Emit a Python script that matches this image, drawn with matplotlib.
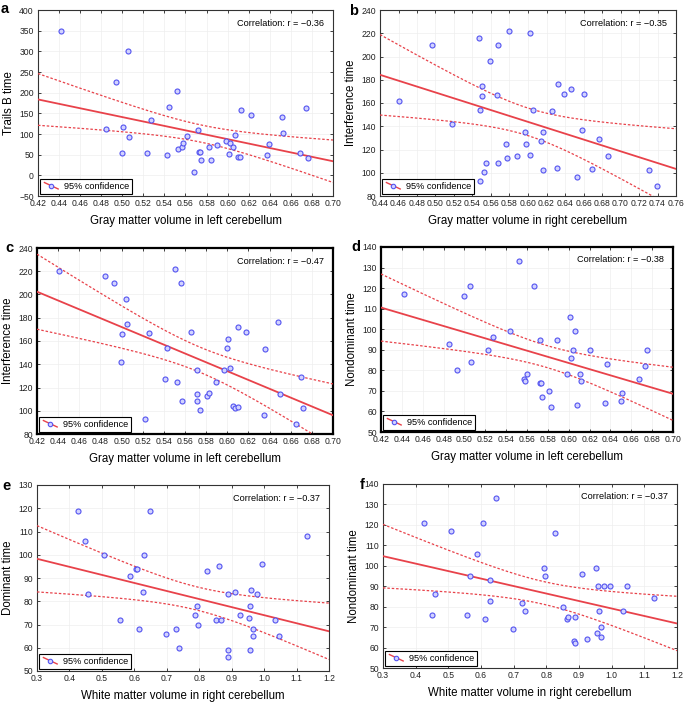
import numpy as np
import matplotlib.pyplot as plt
from matplotlib.lines import Line2D
from matplotlib.legend_handler import HandlerBase

plt.rcParams['font.family'] = ['Liberation Sans', 'DejaVu Sans']

# panel a: gray matter (left) vs Trails B time
a_x = [0.442, 0.505, 0.494, 0.485, 0.501, 0.506, 0.500, 0.527, 0.523, 0.544,
       0.552, 0.542, 0.553, 0.557, 0.558, 0.561, 0.568, 0.572, 0.573, 0.574,
       0.575, 0.582, 0.584, 0.590, 0.598, 0.602, 0.601, 0.605, 0.607, 0.610,
       0.612, 0.613, 0.622, 0.637, 0.639, 0.652, 0.653, 0.669, 0.674, 0.676]
a_y = [350, 300, 227, 112, 116, 93, 55, 135, 55, 165,
       203, 50, 63, 69, 78, 96, 8, 110, 57, 57,
       37, 68, 36, 74, 82, 79, 52, 69, 97, 45,
       45, 157, 146, 48, 75, 142, 103, 55, 162, 43]

# panel b: gray matter (right) vs interference time
b_x = [0.460, 0.496, 0.518, 0.547, 0.548, 0.550, 0.550, 0.548, 0.552, 0.555,
       0.559, 0.566, 0.568, 0.568, 0.579, 0.576, 0.577, 0.588, 0.597, 0.598,
       0.602, 0.602, 0.605, 0.614, 0.616, 0.616, 0.626, 0.631, 0.632, 0.639,
       0.647, 0.653, 0.658, 0.661, 0.669, 0.677, 0.687, 0.731, 0.739]
b_y = [162, 210, 142, 216, 154, 175, 166, 93, 101, 108,
       196, 167, 210, 108, 222, 125, 113, 114, 135, 125,
       220, 115, 154, 127, 135, 102, 153, 104, 176, 168,
       172, 96, 137, 168, 103, 129, 114, 102, 89]

# panel c: gray matter (left) vs interference time
c_x = [0.441, 0.484, 0.493, 0.504, 0.505, 0.500, 0.499, 0.526, 0.522, 0.543,
       0.541, 0.551, 0.556, 0.552, 0.557, 0.566, 0.571, 0.571, 0.571, 0.574,
       0.581, 0.583, 0.589, 0.597, 0.600, 0.601, 0.603, 0.605, 0.607, 0.610,
       0.610, 0.618, 0.635, 0.636, 0.648, 0.650, 0.665, 0.670, 0.672]
c_y = [220, 216, 210, 196, 175, 166, 142, 167, 93, 154,
       127, 222, 210, 125, 108, 168, 135, 114, 108, 101,
       113, 115, 125, 135, 154, 162, 137, 104, 102, 103,
       172, 168, 96, 153, 176, 114, 89, 129, 102]

# panel d: gray matter (left) vs nondominant time
d_x = [0.442, 0.485, 0.493, 0.500, 0.505, 0.506, 0.523, 0.527, 0.544, 0.552,
       0.557, 0.558, 0.560, 0.567, 0.572, 0.572, 0.573, 0.574, 0.581, 0.583,
       0.589, 0.598, 0.601, 0.602, 0.604, 0.606, 0.608, 0.611, 0.612, 0.620,
       0.635, 0.637, 0.650, 0.651, 0.667, 0.673, 0.675]
d_y = [117, 93, 80, 116, 121, 84, 90, 96, 99, 133,
       76, 75, 78, 121, 95, 74, 74, 67, 70, 62,
       95, 78, 106, 86, 90, 99, 63, 78, 75, 90,
       64, 83, 65, 69, 76, 82, 90]

# panel e: white matter (right) vs dominant time
e_x = [0.426, 0.449, 0.458, 0.508, 0.556, 0.588, 0.606, 0.608, 0.613, 0.628,
       0.631, 0.647, 0.697, 0.728, 0.737, 0.788, 0.792, 0.795, 0.825, 0.852,
       0.862, 0.867, 0.888, 0.888, 0.889, 0.910, 0.925, 0.952, 0.955, 0.958,
       0.960, 0.966, 0.966, 0.977, 0.995, 1.035, 1.046, 1.133]
e_y = [119, 106, 83, 100, 72, 91, 94, 94, 68, 84,
       100, 119, 66, 68, 60, 74, 78, 70, 93, 72,
       95, 72, 56, 59, 83, 84, 74, 73, 59, 78,
       85, 68, 65, 83, 96, 72, 65, 108]

# panel f: white matter (right) vs nondominant time
f_x = [0.426, 0.449, 0.458, 0.508, 0.556, 0.566, 0.588, 0.606, 0.611, 0.627,
       0.629, 0.647, 0.697, 0.726, 0.736, 0.792, 0.795, 0.825, 0.852, 0.862,
       0.867, 0.888, 0.886, 0.888, 0.910, 0.925, 0.952, 0.955, 0.958, 0.960,
       0.966, 0.966, 0.977, 0.995, 1.035, 1.046, 1.131]
f_y = [121, 76, 86, 117, 76, 95, 106, 121, 74, 83,
       93, 133, 69, 82, 78, 99, 95, 116, 80, 74,
       75, 75, 63, 62, 96, 64, 99, 67, 90, 78,
       70, 65, 90, 90, 78, 90, 84]

panels = [
    ('a', a_x, a_y, '-0.36', 'Gray matter volume in left cerebellum', 'Trails B time',
     (0.42, 0.70), np.arange(0.42, 0.7001, 0.02), (-50, 400), np.arange(-50, 401, 50)),
    ('b', b_x, b_y, '-0.35', 'Gray matter volume in right cerebellum', 'Interference time',
     (0.44, 0.76), np.arange(0.44, 0.7601, 0.02), (80, 240), np.arange(80, 241, 20)),
    ('c', c_x, c_y, '-0.47', 'Gray matter volume in left cerebellum', 'Interference time',
     (0.42, 0.70), np.arange(0.42, 0.7001, 0.02), (80, 240), np.arange(80, 241, 20)),
    ('d', d_x, d_y, '-0.38', 'Gray matter volume in left cerebellum', 'Nondominant time',
     (0.42, 0.70), np.arange(0.42, 0.7001, 0.02), (50, 140), np.arange(50, 141, 10)),
    ('e', e_x, e_y, '-0.37', 'White matter volume in right cerebellum', 'Dominant time',
     (0.3, 1.2), np.arange(0.3, 1.2001, 0.1), (50, 130), np.arange(50, 131, 10)),
    ('f', f_x, f_y, '-0.37', 'White matter volume in right cerebellum', 'Nondominant time',
     (0.3, 1.2), np.arange(0.3, 1.2001, 0.1), (50, 140), np.arange(50, 141, 10)),
]

# axes boxes in pixels: left, top, right, bottom
boxes = [(38, 10, 333, 196), (380, 10, 676, 196),
         (37, 248, 333, 434), (381, 247, 673, 432),
         (37, 485, 329, 671), (383, 484, 677, 668)]
# panel letter positions (pixels)
letter_pos = [(1, 9), (349, 11), (5, 248), (351, 247), (2, 486), (360, 485)]
thick = {'c', 'd'}

red = '#e8424a'
dot_edge = '#5454f0'
dot_face = '#d2d3ff'


class DiagHandler(HandlerBase):
    def create_artists(self, legend, orig, xd, yd, w, h, fontsize, trans):
        ln = Line2D([-xd + 1, -xd + w - 1], [-yd + h, -yd], color=red, lw=1.0,
                    transform=trans)
        mk = Line2D([-xd + w * 0.5], [-yd + h * 0.5], marker='o', ms=3.2, mfc=dot_face,
                    mec=dot_edge, mew=0.8, ls='none', transform=trans)
        return [ln, mk]


def fit_band(x, y, xs, t=2.02):
    x = np.asarray(x, float)
    y = np.asarray(y, float)
    n = len(x)
    slope, icpt = np.polyfit(x, y, 1)
    s = np.sqrt(np.sum((y - (icpt + slope * x)) ** 2) / (n - 2))
    sxx = np.sum((x - x.mean()) ** 2)
    fit = icpt + slope * xs
    se = s * np.sqrt(1.0 / n + (xs - x.mean()) ** 2 / sxx)
    return fit, fit - t * se, fit + t * se


W, H = 685, 702
fig = plt.figure(figsize=(W / 100, H / 100), dpi=100)

for (lab, x, y, r, xl, yl, xlim, xt, ylim, yt), (l, t, rr, b), (px, py) in zip(panels, boxes, letter_pos):
    ax = fig.add_axes([l / W, 1 - b / H, (rr - l) / W, (b - t) / H])
    xs = np.linspace(xlim[0], xlim[1], 200)
    fit, lo, hi = fit_band(x, y, xs)
    ax.plot(xs, fit, color=red, lw=1.3, zorder=3)
    ax.plot(xs, lo, color=red, lw=0.9, ls=(0, (2, 1.5)), zorder=3)
    ax.plot(xs, hi, color=red, lw=0.9, ls=(0, (2, 1.5)), zorder=3)
    ax.scatter(x, y, s=13, facecolor=dot_face, edgecolor=dot_edge, linewidth=0.8, zorder=4)
    ax.set_xlim(xlim)
    ax.set_ylim(ylim)
    ax.set_xticks(xt)
    ax.set_yticks(yt)
    if xlim[1] < 1:
        ax.set_xticklabels(['%.2f' % v for v in xt])
    else:
        ax.set_xticklabels(['%.1f' % v for v in xt])
    ax.tick_params(direction='in', top=True, right=True, length=2.5, width=0.6,
                   labelsize=6.2, colors='#222222')
    ax.tick_params(axis='x', pad=2.5)
    ax.tick_params(axis='y', pad=3)
    ax.grid(True, color='#eeeeee', lw=0.5)
    ax.set_axisbelow(True)
    for sp in ax.spines.values():
        sp.set_linewidth(1.6 if lab in thick else 0.8)
        sp.set_color('black' if lab in thick else '#333333')
    ax.set_xlabel(xl, fontsize=8.3, labelpad=5)
    ax.set_ylabel(yl, fontsize=8.3, labelpad=3)
    ax.text(0.97, 0.93, 'Correlation: r = \u2212' + r[1:], transform=ax.transAxes,
            ha='right', va='center', fontsize=6.6)
    h = Line2D([], [])
    leg = ax.legend([h], ['95% confidence'], handler_map={Line2D: DiagHandler()},
                    loc='lower left', fontsize=6.6, frameon=True, fancybox=False,
                    edgecolor='black', framealpha=1, borderaxespad=0.25,
                    handlelength=1.8, handletextpad=0.5, borderpad=0.3)
    leg.get_frame().set_linewidth(0.8)
    fig.text(px / W, 1 - py / H, lab, fontsize=10.5, fontweight='bold',
             ha='left', va='center')

fig.savefig('out.png', dpi=100)
